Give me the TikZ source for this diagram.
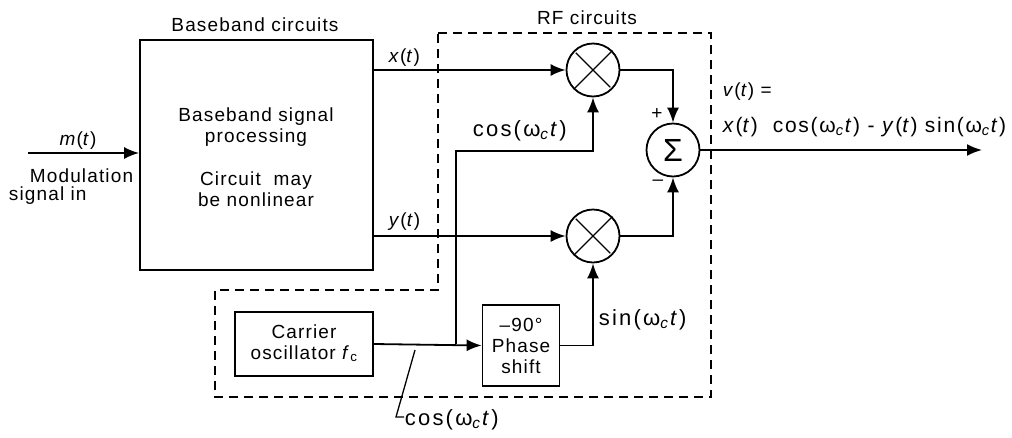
\documentclass[tikz,border=0pt]{standalone}
\usepackage{fontspec}
\setmainfont{Liberation Sans}[LetterSpace=6]
\usetikzlibrary{arrows.meta}
\newcommand\wc{ω\textsubscript{\textit{c}}\textit{t}}
\begin{document}
\begin{tikzpicture}[x=1pt,y=-1pt,line width=1.8pt,
  arr/.style={-{Latex[length=15pt,width=12pt]}},
  lbl/.style={font=\fontsize{19}{21}\selectfont,inner sep=0pt,align=center},
  mlbl/.style={font=\fontsize{22}{24}\selectfont\addfontfeatures{LetterSpace=10},inner sep=0pt},
  circ/.style={draw,circle,minimum size=53pt,inner sep=0pt},
  box/.style={draw,inner sep=0pt},
  rf/.style={line width=1.5pt,dash pattern=on 9pt off 6pt}]
\useasboundingbox (0,0) rectangle (1012,437);
% blocks
\node[box,minimum width=233pt,minimum height=230pt] (bb) at (256.5,155) {};
\node[lbl] (bbt1) at (256,127) {Baseband signal\\processing};
\node[lbl] (bbt2) at (256,189) {Circuit\ \ may\\be nonlinear};
\node[circ] (m1) at (593,70) {};
\node[circ] (m2) at (593,236) {};
\node[circ,font=\fontsize{32}{32}\selectfont] (sum) at (673,150) {Σ};
\draw[line width=1.3pt,shorten >=3pt,shorten <=3pt] (m1.45) -- (m1.225) (m1.135) -- (m1.315);
\draw[line width=1.3pt,shorten >=3pt,shorten <=3pt] (m2.45) -- (m2.225) (m2.135) -- (m2.315);
\node[box,minimum width=138pt,minimum height=64pt] (osc) at (304,344) {};
\node[lbl] (osct) at (304,343) {Carrier\\oscillator \textit{f}\textsubscript{c}};
\node[box,minimum width=77pt,minimum height=81pt,lbl] (ph) at (521,345.5) {–90°\\Phase\\shift};
% dashed RF region
\draw[rf] (438,33) -- (711,33) -- (711,397) -- (215,397) -- (215,290) -- (438,290) -- cycle;
% connectors
\coordinate (min) at (28,153);
\draw[arr] (min) -- (min -| bb.west);
\draw[arr] (bb.east |- m1) -- (m1.west);
\draw[arr] (bb.east |- m2) -- (m2.west);
\draw[arr] (m1.east) -| (sum.north);
\draw[arr] (m2.east) -| (sum.south);
\coordinate (vout) at (982,150);
\draw[arr] (sum.east) -- (vout);
\draw[arr] (osc.east) -- (ph.west);
\coordinate (br) at (456,344);
\coordinate (bk) at (456,151);
\draw[arr] (br) -- (bk) -| (m1.south);
\draw[arr] (ph.east) -| (m2.south);
% leader
\coordinate (ld1) at (415,350);
\coordinate (ld2) at (396,417);
\coordinate (ld3) at (404,417);
\draw[line width=1.3pt] (ld1) -- (ld2) -- (ld3);
% labels
\node[lbl] (lbb) at (255,25) {Baseband circuits};
\node[lbl] (lrf) at (587,18) {RF circuits};
\node[lbl] (lm) at (78,141) {\textit{m}(\textit{t})};
\node[lbl,anchor=east] (lmod) at (134,176) {Modulation};
\node[lbl,anchor=west] (lsig) at (8,196) {signal in};
\node[lbl,anchor=west] (lx) at (388,58) {\textit{x}(\textit{t})};
\node[lbl,anchor=west] (ly) at (388,222) {\textit{y}(\textit{t})};
\node[mlbl,anchor=west] (lc1) at (472,131) {cos(\wc)};
\node[lbl] (lp) at (657,114) {+};
\node[lbl] (lmi) at (658,183) {–};
\node[lbl,anchor=west] (lv1) at (722,92) {\textit{v}(\textit{t}) =};
\node[mlbl,anchor=west,font=\fontsize{21}{23}\selectfont\addfontfeatures{LetterSpace=8}] (lv2) at (722,127) {\textit{x}(\textit{t})\ \ cos(\wc) - \textit{y}(\textit{t}) sin(\wc)};
\node[mlbl,anchor=west] (ls) at (598,320) {sin(\wc)};
\node[mlbl,anchor=west] (lc2) at (404,420) {cos(\wc)};
\end{tikzpicture}
\end{document}
